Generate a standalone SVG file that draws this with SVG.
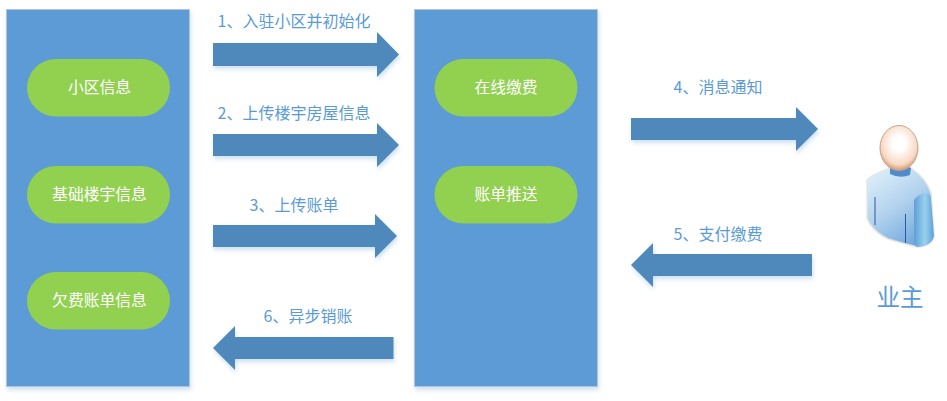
<svg xmlns="http://www.w3.org/2000/svg" width="947" height="401" viewBox="0 0 947 401">
<style>
text{font-family:"Noto Sans CJK SC","Liberation Sans",sans-serif;text-anchor:middle}
.panel{fill:#5b9bd5;stroke:#b4c3d6;stroke-width:1;filter:url(#sh)}
.pill{fill:#92d050}
.pt{fill:#fff;font-size:15.8px}
.lb{fill:#5b9bd5;font-size:16px}
.ar{fill:#4f88bb;filter:url(#sh)}
</style>
<defs>
<filter id="sh" x="-10%" y="-10%" width="120%" height="125%"><feDropShadow dx="1" dy="3" stdDeviation="2" flood-color="#5b9bd5" flood-opacity=".3"/></filter>
<radialGradient id="head" cx=".5" cy=".4" r=".62"><stop offset=".25" stop-color="#fff"/><stop offset=".75" stop-color="#f8d9c4"/><stop offset="1" stop-color="#cf9064"/></radialGradient>
<linearGradient id="body" x1=".1" y1="0" x2=".7" y2="1"><stop offset="0" stop-color="#dff1fa"/><stop offset=".5" stop-color="#b3d2ee"/><stop offset="1" stop-color="#6ea6dc"/></linearGradient>
<linearGradient id="sleeve" x1="0" y1="0" x2="1" y2="0"><stop offset="0" stop-color="#5f9fd9"/><stop offset=".55" stop-color="#98d1ec"/><stop offset="1" stop-color="#5f9fd9"/></linearGradient>
</defs>
<g id="panel-left"><rect class="panel" x="6.500" y="9.500" width="183" height="377"/></g>
<g id="panel-mid"><rect class="panel" x="414.500" y="9.500" width="183" height="377"/></g>
<g id="node-xiaoqu"><rect class="pill" x="27" y="59" width="143" height="57.500" rx="28.700"/><text class="pt" x="99.500" y="93">小区信息</text></g>
<g id="node-louyu"><rect class="pill" x="27" y="166" width="143" height="57.500" rx="28.700"/><text class="pt" x="99.500" y="200">基础楼宇信息</text></g>
<g id="node-qianfei"><rect class="pill" x="27" y="272" width="143" height="57.500" rx="28.700"/><text class="pt" x="99.500" y="306">欠费账单信息</text></g>
<g id="node-zaixian"><rect class="pill" x="434.500" y="59" width="143" height="57.500" rx="28.700"/><text class="pt" x="506" y="93">在线缴费</text></g>
<g id="node-tuisong"><rect class="pill" x="434.500" y="166" width="143" height="57.500" rx="28.700"/><text class="pt" x="506" y="200">账单推送</text></g>
<g id="connectors">
<polygon class="ar" points="213,43 377,43 377,32 399,54.500 377,77 377,66 213,66"/>
<polygon class="ar" points="213,134 377,134 377,123 399,145 377,167 377,156 213,156"/>
<polygon class="ar" points="213,225 375,225 375,214 397,236 375,258 375,247 213,247"/>
<polygon class="ar" points="631,118 796,118 796,107 818,129 796,151 796,140 631,140"/>
<polygon class="ar" points="812,254 653,254 653,243 631,265 653,287 653,276 812,276"/>
<polygon class="ar" points="393.500,337 235,337 235,326 213,348 235,370 235,359 393.500,359"/>
</g>
<g id="labels">
<text class="lb" x="294" y="27">1、入驻小区并初始化</text>
<text class="lb" x="294" y="119">2、上传楼宇房屋信息</text>
<text class="lb" x="294" y="211">3、上传账单</text>
<text class="lb" x="718" y="93">4、消息通知</text>
<text class="lb" x="718" y="240">5、支付缴费</text>
<text class="lb" x="308" y="322">6、异步销账</text>
</g>
<g id="node-yezhu">
<path d="M867 180 Q870 176 890 168 L911 168 Q926 178 931 193 L934 236 Q932 246 917 247 Q905 244 888 239 Q876 233 870 224 L867 218Z" fill="url(#body)" stroke="#e3e6e6" stroke-width="1.500"/>
<path d="M890 168 Q901 161 911 168 L910 175 Q900 179 890 174Z" fill="#4f8ccb"/>
<ellipse cx="899" cy="148" rx="19" ry="22.500" fill="url(#head)" stroke="#c2a38e" stroke-width="1"/>
<path d="M914 200 Q918 194 926 193 Q931 194 931 198 L934 236 Q932 246 917 247 Q914 245 914 241Z" fill="url(#sleeve)"/>
<path d="M875 197V225M905.500 214V243" stroke="#2a5a9c" stroke-width="1" fill="none"/>
<text x="900" y="306" font-size="23.500" fill="#5b9bd5">业主</text>
</g>
</svg>
